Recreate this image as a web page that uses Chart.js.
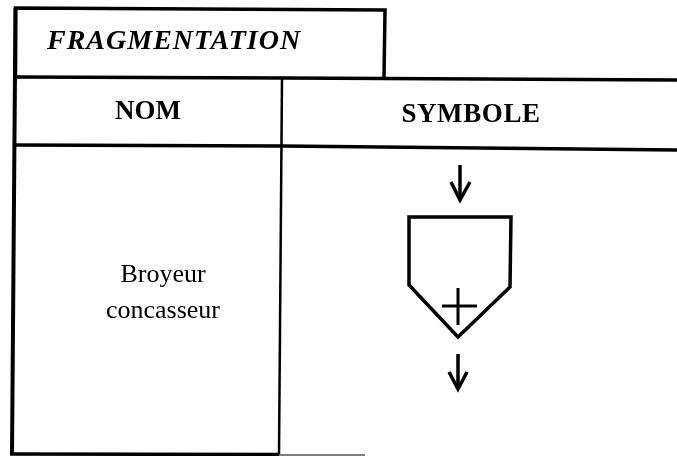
<!DOCTYPE html>
<html>
<head>
<meta charset="utf-8">
<style>
html,body{margin:0;padding:0;background:#fff;}
#wrap{position:relative;width:677px;height:456px;}
</style>
<script src="https://cdn.jsdelivr.net/npm/chart.js@4"></script>
</head>
<body>
<div id="wrap"><canvas id="c" width="677" height="456"></canvas></div>
<script>
const titleBoxLine = [{x:15.5,y:78},{x:15.5,y:8},{x:385,y:10},{x:384,y:78}];
const leftRule = [{x:15.5,y:8},{x:12,y:454}];
const headerTopRule = [{x:15,y:77},{x:285,y:78},{x:677,y:80}];
const headerBottomRule = [{x:14,y:145},{x:282,y:146},{x:677,y:150}];
const columnRule = [{x:282,y:78},{x:279,y:454}];
const bottomRuleDark = [{x:10,y:454},{x:279,y:454.5}];
const bottomRuleLight = [{x:279,y:455},{x:365,y:455}];
const symbolOutline = [{x:409,y:217},{x:511,y:217},{x:510,y:287},{x:458,y:337},{x:409,y:285},{x:409,y:217}];
const plusHorizontal = [{x:442,y:306},{x:477,y:306}];
const plusVertical = [{x:458,y:288},{x:458,y:325}];
const arrowInShaft = [{x:460,y:165},{x:460,y:200}];
const arrowInHead = [{x:451,y:182},{x:460,y:200},{x:470,y:182}];
const arrowOutShaft = [{x:458,y:354},{x:458,y:388}];
const arrowOutHead = [{x:449,y:372},{x:458,y:389},{x:467,y:372}];

const labelTexts = ["FRAGMENTATION","NOM","SYMBOLE","Broyeur","concasseur"];
const labelX = [47,148,471,163,163];
const labelY = [42,112,115,275,311];

const lineSet = (data,w,c,cap) => ({data,showLine:true,borderColor:c||'#000',borderWidth:w,pointRadius:0,fill:false,tension:0,borderJoinStyle:'miter',borderCapStyle:cap||'butt'});

const textPlugin = {
  id:'cellText',
  afterDatasetsDraw(chart){
    const {ctx,scales:{x,y}} = chart;
    const fonts = ['italic bold 28px "Liberation Serif"','bold 27px "Liberation Serif"','bold 27px "Liberation Serif"','26px "Liberation Serif"','26px "Liberation Serif"'];
    const aligns = ['left','center','center','center','center'];
    const spacing = ['1px','0px','0.6px','0px','0px'];
    ctx.save();
    ctx.fillStyle='#000';
    ctx.textBaseline='middle';
    labelTexts.forEach((t,i)=>{
      ctx.font=fonts[i];
      ctx.letterSpacing=spacing[i];
      ctx.textAlign=aligns[i];
      ctx.fillText(t,x.getPixelForValue(labelX[i]),y.getPixelForValue(labelY[i]));
    });
    ctx.restore();
  }
};

new Chart(document.getElementById('c'),{
  type:'scatter',
  data:{datasets:[
    lineSet(titleBoxLine,3.5,'#000','square'),
    lineSet(leftRule,4),
    lineSet(headerTopRule,3.5),
    lineSet(headerBottomRule,3.5),
    lineSet(columnRule,2.5),
    lineSet(bottomRuleDark,3.5),
    lineSet(bottomRuleLight,1.5,'#555'),
    lineSet(symbolOutline,3.5,'#000','square'),
    lineSet(plusHorizontal,3),
    lineSet(plusVertical,3),
    lineSet(arrowInShaft,3.5),
    lineSet(arrowInHead,3.5),
    lineSet(arrowOutShaft,3.5),
    lineSet(arrowOutHead,3.5)
  ]},
  plugins:[textPlugin],
  options:{
    responsive:false,animation:false,
    layout:{padding:0},
    plugins:{legend:{display:false},title:{display:false},tooltip:{enabled:false}},
    scales:{
      x:{type:'linear',display:false,min:0,max:677},
      y:{type:'linear',display:false,min:0,max:456,reverse:true}
    }
  }
});
</script>
</body>
</html>
